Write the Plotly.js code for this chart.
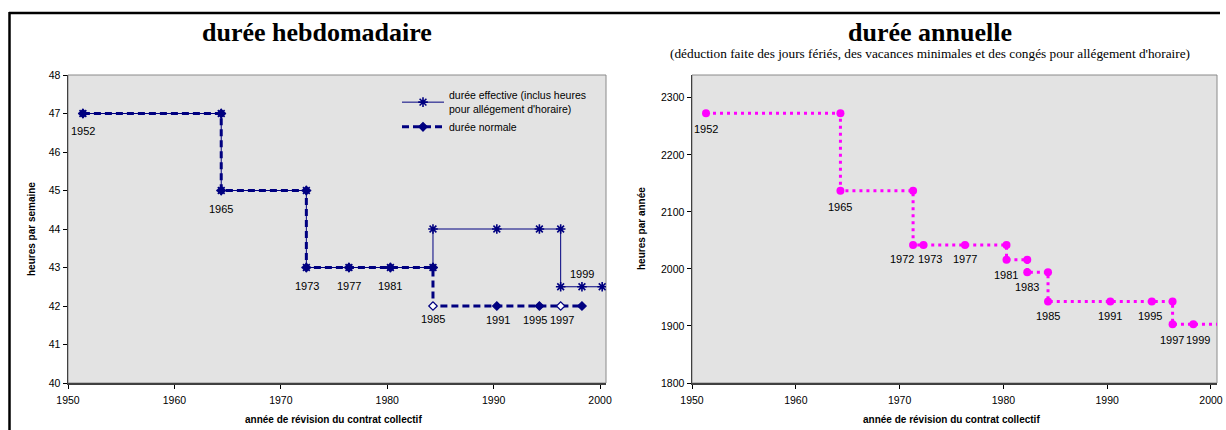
<!DOCTYPE html>
<html>
<head>
<meta charset="utf-8">
<script src="https://cdn.plot.ly/plotly-3.0.1.min.js"></script>
<style>
  html, body { margin: 0; padding: 0; background: #ffffff; }
  #chart { width: 1226px; height: 430px; }
</style>
</head>
<body>
<div id="chart"></div>
<script>
// ---- weekly duration (left chart) ----
const weekEffX = [1951.4, 1964.4, 1964.4, 1972.4, 1972.4, 1976.4, 1980.3, 1984.3, 1984.3, 1990.3, 1994.3, 1996.3, 1996.3, 1998.3, 2000.2];
const weekEffHours = [47, 47, 45, 45, 43, 43, 43, 43, 44, 44, 44, 44, 42.5, 42.5, 42.5];
const weekEffLabels = ['1952', '', '1965', '', '1973', '1977', '1981', '', '', '', '', '', '', '1999', ''];

const weekNormX = [1951.4, 1964.4, 1964.4, 1972.4, 1972.4, 1976.4, 1980.3, 1984.3, 1984.3, 1990.3, 1994.3, 1996.3, 1998.3];
const weekNormHours = [47, 47, 45, 45, 43, 43, 43, 43, 42, 42, 42, 42, 42];
const weekNormLabels = ['', '', '', '', '', '', '', '', '1985', '1991', '1995', '1997', ''];

const seriesNames = ["durée effective (inclus heures<br>pour allégement d'horaire)", 'durée normale'];

// ---- annual duration (right chart) ----
const annX = [1951.35, 1964.3, 1964.3, 1971.3, 1971.3, 1972.3, 1976.3, 1980.3, 1980.3, 1982.3, 1982.3, 1984.3, 1984.3, 1990.3, 1994.3, 1996.3, 1996.3, 1998.3, 2001];
const annHours = [2273, 2273, 2137, 2137, 2042, 2042, 2042, 2042, 2016, 2016, 1994, 1994, 1943, 1943, 1943, 1943, 1903, 1903, 1903];
const annLabels = ['1952', '', '1965', '', '1972', '1973', '1977', '', '1981', '', '1983', '', '1985', '1991', '1995', '', '1997', '1999', ''];

// ---- texts ----
const titleWeek = 'durée hebdomadaire';
const titleYear = 'durée annuelle';
const subtitleYear = "(déduction faite des jours fériés, des vacances minimales et des congés pour allégement d'horaire)";
const yTitleWeek = 'heures par semaine';
const yTitleYear = 'heures par année';
const xTitle = 'année de révision du contrat collectif';

const NAVY = '#000080';
const MAGENTA = '#ff00ff';
const SANS = 'Liberation Sans, Arial, sans-serif';
const SERIF = 'Liberation Serif, Times New Roman, serif';

const normColors = weekNormLabels.map(t => (t === '1985' || t === '1997') ? '#ffffff' : NAVY);

const traces = [
  {
    x: weekNormX, y: weekNormHours, name: seriesNames[1], type: 'scatter', mode: 'lines+markers',
    xaxis: 'x', yaxis: 'y', legendrank: 2,
    line: { color: NAVY, width: 3, dash: '7px,4px' },
    marker: { symbol: 'diamond', size: 6.5, color: normColors, line: { color: NAVY, width: 1.2 } }
  },
  {
    x: weekEffX, y: weekEffHours, name: seriesNames[0], type: 'scatter', mode: 'lines+markers',
    xaxis: 'x', yaxis: 'y', legendrank: 1,
    line: { color: NAVY, width: 1 },
    marker: { symbol: 'asterisk-open', size: 8, color: NAVY, line: { color: NAVY, width: 1.6 } }
  },
  {
    x: annX, y: annHours, name: 'durée annuelle', type: 'scatter', mode: 'lines+markers',
    xaxis: 'x2', yaxis: 'y2', showlegend: false,
    line: { color: MAGENTA, width: 3, dash: '3px,4px' },
    marker: { symbol: 'circle', size: 8, color: MAGENTA }
  }
];

// label placement styles (pixel shifts only)
const weekShift = { '1952': [0, -17], '1965': [0, -18], '1973': [1, -18], '1977': [0, -18], '1981': [0, -18],
  '1985': [0, -13], '1991': [1, -14], '1995': [-4, -14], '1997': [1, -14], '1999': [0, 13] };
const annShift = { '1952': [0, -16], '1965': [0, -16], '1972': [-11, -14], '1973': [7, -14], '1977': [0, -14],
  '1981': [-1, -15], '1983': [0, -15], '1985': [0, -15], '1991': [0, -15], '1995': [-2, -15], '1997': [-1, -16], '1999': [5, -16] };

function labelAnns(xs, ys, labels, shifts, xref, yref) {
  const out = [];
  labels.forEach((t, i) => {
    if (!t) return;
    const s = shifts[t] || [0, -15];
    out.push({ text: t, x: xs[i], y: ys[i], xref: xref, yref: yref, showarrow: false,
      xanchor: 'center', yanchor: 'middle', xshift: s[0], yshift: s[1],
      font: { family: SANS, size: 11, color: '#000' } });
  });
  return out;
}

const yDom = [(430 - 383) / 430, (430 - 75) / 430];
const axCommon = {
  showgrid: false, zeroline: false, showline: true, linecolor: '#404040', linewidth: 1.5,
  ticks: 'outside', ticklen: 4, tickcolor: '#000', tickwidth: 1,
  tickfont: { family: SANS, size: 10.5, color: '#000' }, fixedrange: true
};

const layout = {
  width: 1226, height: 430,
  margin: { l: 0, r: 0, t: 0, b: 0 },
  paper_bgcolor: '#ffffff', plot_bgcolor: '#e3e3e3',
  showlegend: true,
  legend: {
    x: 397 / 1226, y: (430 - 82) / 430, xanchor: 'left', yanchor: 'top',
    bgcolor: 'rgba(0,0,0,0)', borderwidth: 0, itemwidth: 42,
    font: { family: SANS, size: 10.5, color: '#000' }, tracegroupgap: 2
  },
  xaxis: Object.assign({}, axCommon, { domain: [68 / 1226, 606 / 1226], range: [1950, 2000.56], tick0: 1950, dtick: 10, anchor: 'y', ticklabelstandoff: 3 }),
  yaxis: Object.assign({}, axCommon, { domain: yDom, range: [40, 48], tick0: 40, dtick: 1, anchor: 'x' }),
  xaxis2: Object.assign({}, axCommon, { domain: [692 / 1226, 1217 / 1226], range: [1950, 2000.58], tick0: 1950, dtick: 10, anchor: 'y2', ticklabelstandoff: 3 }),
  yaxis2: Object.assign({}, axCommon, { domain: yDom, range: [1800, 2340], tick0: 1800, dtick: 100, anchor: 'x2' }),
  shapes: [
    { type: 'rect', xref: 'x domain', yref: 'y domain', x0: 0, x1: 1, y0: 0, y1: 1, line: { color: '#8a8a8a', width: 1 }, layer: 'below' },
    { type: 'rect', xref: 'x2 domain', yref: 'y2 domain', x0: 0, x1: 1, y0: 0, y1: 1, line: { color: '#8a8a8a', width: 1 }, layer: 'below' },
    { type: 'line', xref: 'paper', yref: 'paper', x0: 9 / 1226, x1: 1220 / 1226, y0: (430 - 13) / 430, y1: (430 - 13) / 430, line: { color: '#000', width: 2.5 } },
    { type: 'line', xref: 'paper', yref: 'paper', x0: 9.5 / 1226, x1: 9.5 / 1226, y0: 0, y1: (430 - 12) / 430, line: { color: '#000', width: 2.5 } }
  ],
  annotations: [
    { text: '<b>' + titleWeek + '</b>', xref: 'paper', yref: 'paper', x: 317 / 1226, y: (430 - 32) / 430, xanchor: 'center', yanchor: 'middle', showarrow: false, font: { family: SERIF, size: 26, color: '#000' } },
    { text: '<b>' + titleYear + '</b>', xref: 'paper', yref: 'paper', x: 930 / 1226, y: (430 - 32) / 430, xanchor: 'center', yanchor: 'middle', showarrow: false, font: { family: SERIF, size: 26, color: '#000' } },
    { text: subtitleYear, xref: 'paper', yref: 'paper', x: 930 / 1226, y: (430 - 53) / 430, xanchor: 'center', yanchor: 'middle', showarrow: false, font: { family: SERIF, size: 13.3, color: '#000' } },
    { text: '<b>' + yTitleWeek + '</b>', xref: 'paper', yref: 'paper', x: 31 / 1226, y: (430 - 229) / 430, xanchor: 'center', yanchor: 'middle', textangle: -90, showarrow: false, font: { family: SANS, size: 10, color: '#000' } },
    { text: '<b>' + yTitleYear + '</b>', xref: 'paper', yref: 'paper', x: 641 / 1226, y: (430 - 229) / 430, xanchor: 'center', yanchor: 'middle', textangle: -90, showarrow: false, font: { family: SANS, size: 10, color: '#000' } },
    { text: '<b>' + xTitle + '</b>', xref: 'paper', yref: 'paper', x: 333 / 1226, y: (430 - 419) / 430, xanchor: 'center', yanchor: 'middle', showarrow: false, font: { family: SANS, size: 10, color: '#000' } },
    { text: '<b>' + xTitle + '</b>', xref: 'paper', yref: 'paper', x: 951 / 1226, y: (430 - 419) / 430, xanchor: 'center', yanchor: 'middle', showarrow: false, font: { family: SANS, size: 10, color: '#000' } }
  ]
    .concat(labelAnns(weekEffX, weekEffHours, weekEffLabels, weekShift, 'x', 'y'))
    .concat(labelAnns(weekNormX, weekNormHours, weekNormLabels, weekShift, 'x', 'y'))
    .concat(labelAnns(annX, annHours, annLabels, annShift, 'x2', 'y2'))
};

Plotly.newPlot('chart', traces, layout, { staticPlot: true, displayModeBar: false });
</script>
</body>
</html>
